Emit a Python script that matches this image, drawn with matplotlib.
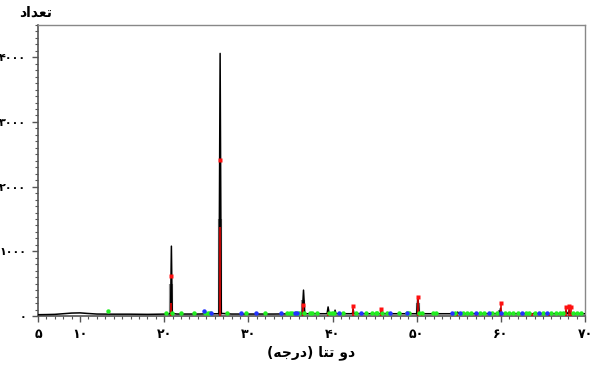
import matplotlib
matplotlib.use("Agg")
import matplotlib.pyplot as plt
from matplotlib.ticker import MultipleLocator, FixedLocator

# black scan profile (2theta, counts)
prof_x = [5, 6, 7, 8, 9, 10, 10.8, 12, 14, 16, 18, 20.5, 20.75, 20.85, 20.95, 21.5,
          24, 26.5, 26.64, 26.78, 28, 30, 33, 36.4, 36.55, 36.7, 39.35, 39.47, 39.6,
          40.2, 40.3, 40.4, 42.35, 42.45, 42.55, 45.7, 45.8, 45.9, 50.0, 50.14, 50.3,
          54.8, 54.87, 55.0, 59.85, 59.96, 60.1, 63.9, 64.0, 64.1, 67.6, 67.74, 67.9,
          68.0, 68.14, 68.25, 70]
prof_y = [20, 22, 25, 35, 45, 48, 40, 30, 28, 28, 25, 30, 40, 1080, 40, 30,
          30, 35, 4060, 40, 30, 30, 30, 35, 400, 35, 35, 140, 35,
          35, 90, 35, 35, 100, 35, 35, 80, 35, 35, 300, 35,
          35, 60, 35, 35, 120, 35, 35, 50, 35, 35, 80, 35,
          35, 90, 35, 35]

# grey peak bars
grey_x = [20.8, 26.6, 36.5, 50.1, 59.9]
grey_h = [500, 1500, 250, 200, 100]

# red reference sticks and markers
red_x = [20.86, 26.64, 36.54, 39.47, 42.45, 45.79, 50.14, 50.6, 54.8, 57.1, 59.96,
         63.7, 65.7, 67.74, 68.14, 68.31]
red_h = [200, 1370, 170, 60, 150, 110, 290, 60, 50, 50, 200, 50, 50, 140, 150, 140]
red_dot_x = [20.86, 26.64, 36.54, 42.45, 45.79, 50.14, 59.96, 67.74, 68.14, 68.31]
red_dot_y = [615, 2415, 170, 150, 110, 290, 200, 140, 150, 140]

green_x = [13.3, 20.2, 20.9, 22.0, 23.5, 24.9, 25.2, 25.4, 27.4, 29.7, 32.0, 34.6,
           34.9, 35.2, 35.6, 36.0, 36.6, 37.3, 37.6, 38.2, 39.6, 39.9, 40.2, 41.2,
           42.8, 44.0, 44.7, 45.2, 45.3, 45.9, 46.5, 47.9, 48.8, 49.1, 50.3, 50.6,
           51.9, 52.3, 54.5, 55.5, 56.0, 56.5, 57.5, 58.0, 59.0, 59.5, 60.5, 61.0,
           61.5, 62.0, 63.0, 63.3, 64.0, 65.0, 66.0, 66.5, 67.0, 67.4, 68.6, 69.0, 69.5]
green_y = [70, 40, 40, 40, 40, 40, 40, 40, 40, 40, 40, 40,
           40, 40, 40, 40, 40, 40, 40, 40, 40, 40, 40, 40,
           40, 40, 40, 40, 40, 40, 40, 40, 40, 40, 40, 40,
           40, 40, 40, 40, 40, 40, 40, 40, 40, 40, 40, 40,
           40, 40, 40, 40, 40, 40, 40, 40, 40, 40, 40, 40, 40]
blue_x = [24.7, 25.5, 29.1, 30.9, 33.9, 35.5, 35.8, 40.8, 43.4, 46.8, 48.9,
          54.2, 55.1, 57.1, 58.6, 60.0, 62.5, 64.5, 65.5]
blue_y = [80, 50, 45, 45, 45, 45, 45, 45, 45, 45, 45,
          45, 45, 45, 45, 45, 45, 45, 45]

fa = str.maketrans("0123456789", "۰۱۲۳۴۵۶۷۸۹")
x_ticks = [5, 10, 20, 30, 40, 50, 60, 70]
y_ticks = [0, 1000, 2000, 3000, 4000]

fig = plt.figure(figsize=(5.92, 3.67), dpi=100)
ax = fig.add_axes([0.0642, 0.139, 0.924, 0.793])

ax.vlines(grey_x, 0, grey_h, color="#8c8c8c", lw=3, zorder=2)
ax.plot(prof_x, prof_y, color="black", lw=1.1, zorder=3)
ax.vlines(red_x, 0, red_h, color="#e00000", lw=1.2, zorder=4)
ax.plot(green_x, green_y, "o", color="#22ee22", ms=3.2, mec="none", zorder=5)
ax.plot(blue_x, blue_y, "o", color="#2233ff", ms=3.2, mec="none", zorder=5)
ax.plot(red_dot_x, red_dot_y, "s", color="#ff1010", ms=3.2, mec="none", zorder=6)

ax.set_xlim(5, 70)
ax.set_ylim(0, 4500)
ax.xaxis.set_major_locator(FixedLocator(x_ticks))
ax.xaxis.set_minor_locator(MultipleLocator(1))
ax.yaxis.set_major_locator(FixedLocator(y_ticks))
ax.yaxis.set_minor_locator(MultipleLocator(100))
ax.set_xticklabels([str(t).translate(fa) for t in x_ticks], fontweight="bold", fontsize=9)
ax.set_yticklabels([str(t).translate(fa) for t in y_ticks], fontweight="bold", fontsize=8)
ax.tick_params(which="major", direction="out", length=4.5, width=1, pad=4, color="#555555")
ax.tick_params(which="minor", direction="out", length=2.5, width=0.8, color="#555555")
for s in ["left", "bottom"]:
    ax.spines[s].set_color("#555555")
    ax.spines[s].set_linewidth(1.2)
for s in ["top", "right"]:
    ax.spines[s].set_color("#888888")
    ax.spines[s].set_linewidth(1)

# shaped Persian text in visual order
fig.text(0.06, 0.965, "ﺩﺍﺪﻌﺗ", ha="center", va="center", fontsize=10, fontweight="bold")
fig.text(0.525, 0.04, "(ﻪﺟﺭﺩ) ﺎﺘﺗ ﻭﺩ", ha="center", va="center", fontsize=10, fontweight="bold")

fig.savefig("out.png", dpi=100)
